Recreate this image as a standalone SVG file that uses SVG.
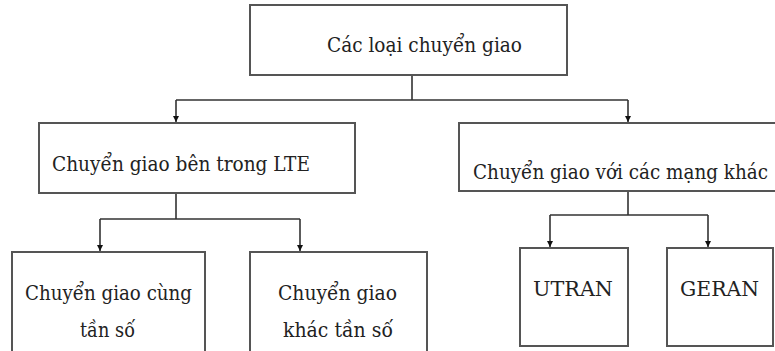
<svg xmlns="http://www.w3.org/2000/svg" width="775" height="351" viewBox="0 0 775 351">
<defs>
<style>
.box{fill:#fff;stroke:#555;stroke-width:2}
.t{font-family:'DejaVu Serif',serif;font-size:20.5px;fill:#222}
.c{fill:none;stroke:#333;stroke-width:1.6}
</style>
<marker id="ah" viewBox="0 0 10 10" refX="10" refY="5" markerWidth="6" markerHeight="6" markerUnits="userSpaceOnUse" orient="auto">
<path d="M0,0 L10,5 L0,10 Z" fill="#111"/>
</marker>
</defs>
<rect width="775" height="351" fill="#fff"/>
<g id="connectors">
<path class="c" d="M412,75 V100 M176,100 H628"/>
<path class="c" d="M176,100 V122" marker-end="url(#ah)"/>
<path class="c" d="M628,100 V122" marker-end="url(#ah)"/>
<path class="c" d="M176,193 V219 M100,219 H300"/>
<path class="c" d="M100,219 V251" marker-end="url(#ah)"/>
<path class="c" d="M300,219 V251" marker-end="url(#ah)"/>
<path class="c" d="M628,191 V215 M550,215 H708"/>
<path class="c" d="M550,215 V247" marker-end="url(#ah)"/>
<path class="c" d="M708,215 V247" marker-end="url(#ah)"/>
</g>
<g id="n-root">
<rect class="box" x="250" y="5" width="317" height="70"/>
<text class="t" x="327" y="52" textLength="195" lengthAdjust="spacingAndGlyphs">Các loại chuyển giao</text>
</g>
<g id="n-lte">
<rect class="box" x="39" y="123" width="316" height="70"/>
<text class="t" x="52" y="171" textLength="258" lengthAdjust="spacingAndGlyphs">Chuyển giao bên trong LTE</text>
</g>
<g id="n-other">
<rect class="box" x="459" y="123" width="320" height="68"/>
<text class="t" x="473" y="179" textLength="295" lengthAdjust="spacingAndGlyphs">Chuyển giao với các mạng khác</text>
</g>
<g id="n-same">
<rect class="box" x="12" y="252" width="193" height="105"/>
<text class="t" x="25" y="300" textLength="167" lengthAdjust="spacingAndGlyphs">Chuyển giao cùng</text>
<text class="t" x="80" y="337" textLength="55" lengthAdjust="spacingAndGlyphs">tần số</text>
</g>
<g id="n-diff">
<rect class="box" x="250" y="252" width="177" height="105"/>
<text class="t" x="278" y="300" textLength="119" lengthAdjust="spacingAndGlyphs">Chuyển giao</text>
<text class="t" x="283" y="337" textLength="110" lengthAdjust="spacingAndGlyphs">khác tần số</text>
</g>
<g id="n-utran">
<rect class="box" x="520" y="248" width="108" height="98"/>
<text class="t" x="533" y="296" textLength="80" lengthAdjust="spacingAndGlyphs">UTRAN</text>
</g>
<g id="n-geran">
<rect class="box" x="667" y="248" width="106" height="98"/>
<text class="t" x="680" y="296" textLength="79" lengthAdjust="spacingAndGlyphs">GERAN</text>
</g>
</svg>
